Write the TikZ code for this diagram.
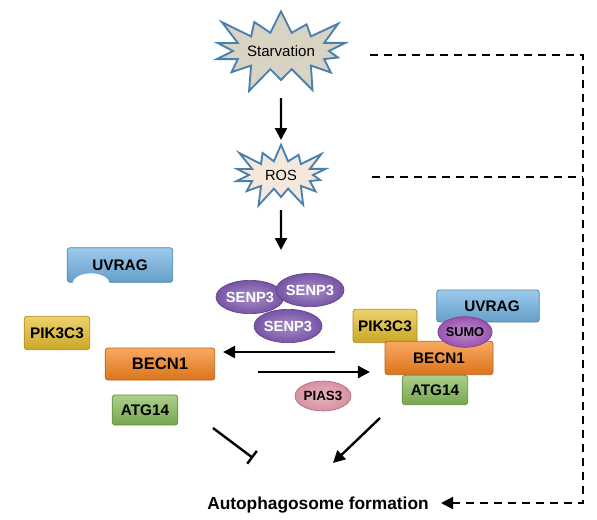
\documentclass[tikz,border=0pt]{standalone}
\usepackage{fontspec}
\setmainfont{Liberation Sans}
\usetikzlibrary{arrows.meta,shapes.symbols,shapes.geometric}
\definecolor{StarFill}{HTML}{D9D3C3}
\definecolor{RosFill}{HTML}{F4E8DC}
\definecolor{BurstEdge}{HTML}{4A80AD}
\definecolor{UvragBlue}{HTML}{72B4E3}
\definecolor{PikYellow}{HTML}{E6BE2E}
\definecolor{BecnOrange}{HTML}{F7841E}
\definecolor{AtgGreen}{HTML}{88BC5A}
\definecolor{SenpPurple}{HTML}{7754A7}
\definecolor{SumoPurple}{HTML}{9B52AE}
\definecolor{PiasPink}{HTML}{D8909F}

\begin{document}
\begin{tikzpicture}[
        x=0.75pt, y=-0.75pt,
        burst/.style={
            starburst,
            starburst points=14,
            draw=BurstEdge,
            line width=1.4pt,
            align=center,
            inner sep=0pt
        },
        protein/.style={
            rectangle,
            rounded corners=2pt,
            draw=#1!75!black,
            line width=0.6pt,
            top color=#1!70!white,
            middle color=#1,
            bottom color=#1!88!black,
            font=\bfseries\fontsize{11.5}{13}\selectfont,
            inner sep=0pt
        },
        blob/.style={
            ellipse,
            draw=#1!80!black,
            line width=0.5pt,
            inner color=#1!65!white,
            outer color=#1,
            inner sep=0pt,
            font=\bfseries\fontsize{11}{13}\selectfont
        },
        arrow/.style={-{Triangle[length=9pt,width=9pt]}, line width=1.8pt},
        blunt/.style={-{Bar[width=12pt]}, line width=1.8pt},
        dashline/.style={dash pattern=on 6pt off 4.5pt, line width=1.6pt}
    ]
        \useasboundingbox (0,0) rectangle (597,519);

        % stress signals
        \node[burst, fill=StarFill, minimum width=101pt, minimum height=72pt,
              starburst point height=22pt, font=\fontsize{11.3}{13}\selectfont] (starv) at (281,51) {Starvation};
        \node[burst, fill=RosFill, minimum width=82pt, minimum height=55pt,
              starburst point height=17pt, font=\fontsize{11}{13}\selectfont] (ros) at (281,175) {ROS};

        % left complex
        \node[protein=UvragBlue, minimum width=79pt, minimum height=26pt] (uvragL) at (120,265) {UVRAG};
        \fill[white] (91,284) ellipse [x radius=14pt, y radius=8pt];
        \node[protein=PikYellow, minimum width=49pt, minimum height=25pt] (pikL) at (57,333) {PIK3C3};
        \node[protein=BecnOrange, minimum width=82pt, minimum height=24pt,
              font=\bfseries\fontsize{12.5}{14}\selectfont] (becnL) at (160,364) {BECN1};
        \node[protein=AtgGreen, minimum width=49pt, minimum height=22.5pt] (atgL) at (145,410) {ATG14};

        % SENP3 cluster
        \node[blob=SenpPurple, minimum width=51pt, minimum height=25pt, text=white] (senpA) at (250,297) {SENP3};
        \node[blob=SenpPurple, minimum width=51pt, minimum height=25pt, text=white] (senpB) at (310,290) {SENP3};
        \node[blob=SenpPurple, minimum width=51pt, minimum height=25pt, text=white] (senpC) at (288,326) {SENP3};
        \node[blob=PiasPink, minimum width=42pt, minimum height=22.5pt,
              font=\bfseries\fontsize{10}{12}\selectfont] (pias) at (323,396) {PIAS3};

        % right complex
        \node[protein=UvragBlue, minimum width=77pt, minimum height=24pt] (uvragR) at (488,306) {\hspace*{6pt}UVRAG};
        \node[protein=PikYellow, minimum width=48pt, minimum height=25pt] (pikR) at (385,326) {PIK3C3};
        \node[protein=BecnOrange, minimum width=81pt, minimum height=25pt] (becnR) at (439,358) {BECN1};
        \node[protein=AtgGreen, minimum width=49pt, minimum height=22pt] (atgR) at (435,390) {ATG14};
        \node[blob=SumoPurple, minimum width=34pt, minimum height=23pt,
              font=\bfseries\fontsize{9.6}{11}\selectfont] (sumo) at (465,332) {SUMO};

        \node[font=\bfseries\fontsize{13}{15}\selectfont, inner sep=0pt] (auto) at (318,505) {Autophagosome formation};

        \coordinate (senptop) at (281,250);
        \coordinate (revstart) at (335,352);
        \coordinate (fwdstart) at (258,372);
        \coordinate (blockstart) at (213,428);
        \coordinate (blockend) at (253,458);
        \coordinate (actstart) at (380,418);
        \coordinate (actend) at (333,463);
        \coordinate (dashA) at (370,55);
        \coordinate (dashB) at (372,177);
        \coordinate (cornerTop) at (583,55);
        \coordinate (cornerBot) at (583,503);

        \draw[arrow] (starv.south |- 0,98) -- (ros.north |- 0,140);
        \draw[arrow] (ros.south |- 0,210) -- (senptop);
        \draw[arrow] (revstart) -- ([xshift=6pt]becnL.east |- revstart);
        \draw[arrow] (fwdstart) -- ([xshift=-11pt]becnR.west |- fwdstart);
        \draw[blunt] (blockstart) -- (blockend);
        \draw[arrow] (actstart) -- (actend);
        \draw[dashline, -{Triangle[length=9pt,width=9pt]}] (dashA) -- (cornerTop) -- (cornerBot) -- ([xshift=9pt]auto.east |- cornerBot);
        \draw[dashline] (dashB) -- (dashB -| cornerTop);
    \end{tikzpicture}
\end{document}
